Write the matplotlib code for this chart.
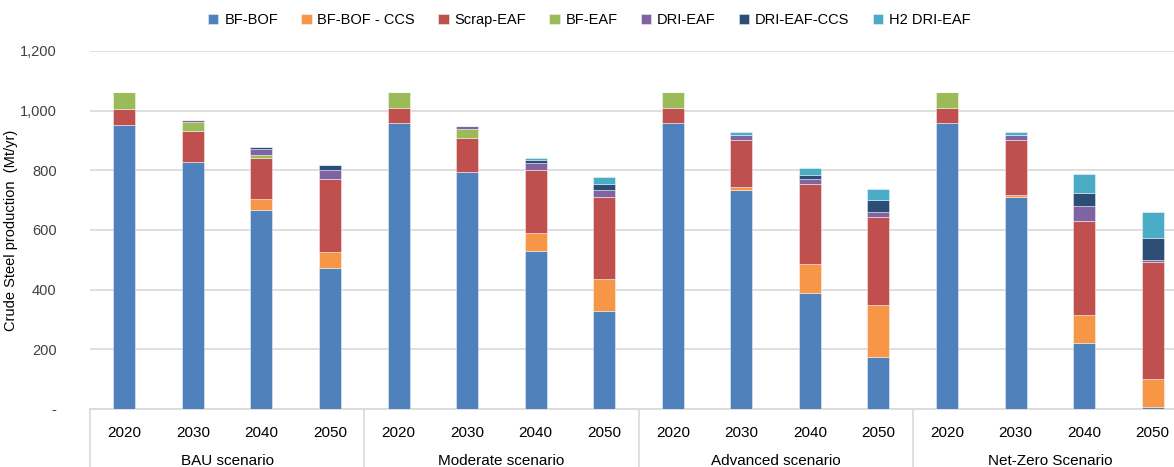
import numpy as np
import matplotlib
matplotlib.use("Agg")
import matplotlib.pyplot as plt
import matplotlib.transforms as mtransforms

plt.rcParams['font.family'] = ['Liberation Sans', 'DejaVu Sans']

scenarios = ["BAU scenario", "Moderate scenario", "Advanced scenario", "Net-Zero Scenario"]
years = ["2020", "2030", "2040", "2050"]
routes = ["BF-BOF", "BF-BOF - CCS", "Scrap-EAF", "BF-EAF", "DRI-EAF", "DRI-EAF-CCS", "H2 DRI-EAF"]
colors = ["#4F81BD", "#F79646", "#C0504D", "#9BBB59", "#8064A2", "#2C4D75", "#4BACC6"]

# Mt/yr, order: BAU 2020..2050, Moderate, Advanced, Net-Zero
bf_bof     = [951, 829, 668, 471,  957, 796, 530, 327,  957, 735, 388, 173,  957, 709, 221, 6]
bf_bof_ccs = [0, 0, 35, 54,        0, 0, 60, 109,       0, 9, 98, 175,       0, 8, 95, 94]
scrap_eaf  = [54, 103, 139, 245,   51, 113, 211, 273,   51, 156, 267, 294,   51, 183, 315, 394]
bf_eaf     = [57, 31, 10, 0,       54, 29, 0, 0,        54, 0, 0, 0,         54, 0, 0, 0]
dri_eaf    = [0, 5, 21, 31,        0, 10, 23, 25,       0, 19, 17, 18,       0, 19, 48, 4]
dri_eaf_ccs = [0, 0, 5, 17,        0, 0, 11, 21,        0, 0, 15, 42,        0, 0, 46, 75]
h2_dri_eaf = [0, 0, 0, 0,          0, 0, 8, 23,         0, 9, 23, 37,        0, 9, 63, 86]

series = [bf_bof, bf_bof_ccs, scrap_eaf, bf_eaf, dri_eaf, dri_eaf_ccs, h2_dri_eaf]

fig = plt.figure(figsize=(11.74, 4.67), dpi=100)
ax = fig.add_axes([90/1174, 1-409/467, 1097/1174, (409-51)/467])

x = np.arange(len(scenarios) * len(years))
bottom = np.zeros(len(x))
for name, vals, c in zip(routes, series, colors):
    vals = np.array(vals, dtype=float)
    ax.bar(x, vals, 0.32, bottom=bottom, color=c, label=name,
           edgecolor=(1, 1, 1, 0.5), linewidth=0.6, zorder=3)
    bottom += vals

ax.set_xlim(-0.5, len(x) - 0.5)
ax.set_ylim(0, 1200)
ax.set_yticks(np.arange(0, 1201, 200))
ax.set_yticklabels(["-"] + ["{:,}".format(v) for v in range(200, 1201, 200)])
ax.yaxis.grid(True, color="#D9D9D9", linewidth=1.2, zorder=0)
ax.tick_params(axis="y", length=0, pad=24, labelsize=10.5, colors="#404040")
ax.set_xticks(x)
ax.set_xticklabels(years * len(scenarios), fontsize=11, color="#000000")
ax.tick_params(axis="x", length=0, pad=12)
for s in ["top", "right", "left"]:
    ax.spines[s].set_visible(False)
ax.spines["bottom"].set_color("#D9D9D9")
ax.spines["bottom"].set_linewidth(1.2)
ax.set_ylabel("Crude Steel production  (Mt/yr)", fontsize=10.5)
ax.yaxis.set_label_coords(-0.066, 0.5)

# group separators and scenario labels under the axis
trans = mtransforms.blended_transform_factory(ax.transData, ax.transAxes)
for i in range(len(scenarios) + 1):
    xs = i * len(years) - 0.5
    ax.plot([xs, xs], [0, -0.17], transform=trans, color="#D9D9D9",
            linewidth=1.2, clip_on=False)
for i, name in enumerate(scenarios):
    ax.text(i * len(years) + 1.5, -0.145, name, transform=trans,
            ha="center", va="center", fontsize=11)

fig.legend(loc="upper center", bbox_to_anchor=(0.502, 1.0), ncol=7, frameon=False,
           fontsize=10.5, handlelength=0.7, handleheight=0.7, columnspacing=1.6,
           handletextpad=0.4)

fig.savefig("out.png", dpi=100)
